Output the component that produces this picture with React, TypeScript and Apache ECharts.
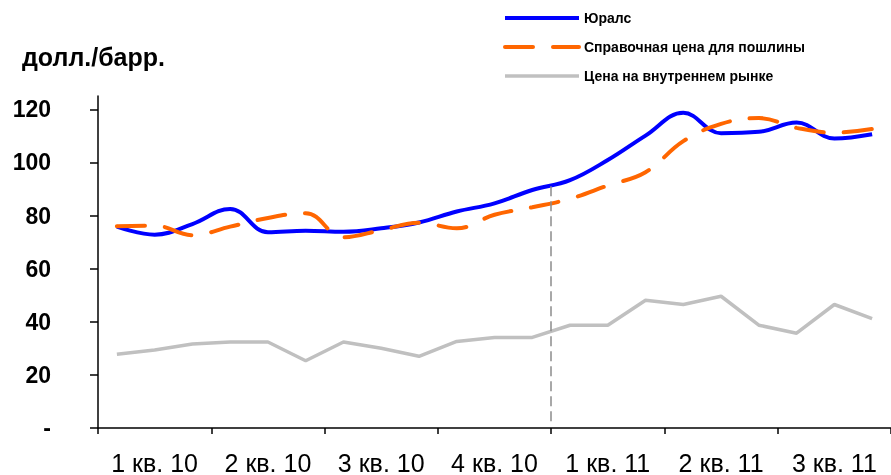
import React, { useEffect, useRef } from 'react';
import * as echarts from 'echarts';

const months = [
  '01.10', '02.10', '03.10', '04.10', '05.10', '06.10', '07.10', '08.10', '09.10', '10.10', '11.10', '12.10',
  '01.11', '02.11', '03.11', '04.11', '05.11', '06.11', '07.11', '08.11', '09.11',
];
const quarterLabels = ['1 кв. 10', '2 кв. 10', '3 кв. 10', '4 кв. 10', '1 кв. 11', '2 кв. 11', '3 кв. 11'];
const urals = [75.8, 72.8, 76.8, 82.5, 73.7, 74.3, 73.9, 75.2, 77.4, 81.5, 84.6, 89.6, 93.3, 100.9, 110.1, 118.7, 111.0, 111.5, 115.0, 109.0, 110.6];
const dutyRef = [76.0, 76.2, 72.6, 75.8, 79.1, 80.9, 71.8, 74.5, 77.3, 75.2, 80.3, 83.1, 86.3, 91.3, 96.3, 108.0, 114.5, 116.7, 113.0, 111.2, 112.6];
const domestic = [27.8, 29.4, 31.6, 32.4, 32.4, 25.3, 32.4, 30.0, 27.0, 32.6, 34.1, 34.1, 38.7, 38.7, 48.1, 46.5, 49.6, 38.7, 35.7, 46.5, 41.2];
const yTicks = [0, 20, 40, 60, 80, 100, 120];
const dividerMonth = 12;
const dividerRange = [2.5, 92];
const seriesNames = ['Юралс', 'Справочная цена для пошлины', 'Цена на внутреннем рынке'];

export default function App() {
  const ref = useRef<HTMLDivElement>(null);
  useEffect(() => {
    const chart = echarts.init(ref.current!, null, { renderer: 'svg' });
    const font = "'Liberation Sans', Arial, sans-serif";
    chart.setOption({
      animation: false,
      textStyle: { fontFamily: font },
      title: {
        text: 'долл./барр.',
        left: 22,
        top: 44,
        padding: 0,
        textStyle: { fontSize: 25, fontWeight: 'bold', color: '#000', fontFamily: font },
      },
      legend: {
        orient: 'vertical',
        left: 498,
        top: 6,
        itemWidth: 74,
        itemHeight: 14,
        itemGap: 15,
        data: seriesNames,
        itemStyle: { opacity: 0 },
        lineStyle: { width: 'inherit' },
        textStyle: { fontSize: 14, fontWeight: 'bold', color: '#000', fontFamily: font },
      },
      grid: { left: 98, top: 96, width: 799, height: 333.5 },
      xAxis: [
        {
          type: 'category',
          data: months,
          boundaryGap: true,
          axisLine: { lineStyle: { color: '#000', width: 1.5 } },
          axisTick: {
            show: true,
            length: 6,
            interval: (i: number) => i % 3 === 0,
            lineStyle: { color: '#000', width: 1.5 },
          },
          axisLabel: {
            interval: (i: number) => i % 3 === 1,
            formatter: (_v: string, i: number) => quarterLabels[Math.floor(i / 3)],
            fontSize: 25,
            color: '#000',
            margin: 22,
            fontFamily: font,
          },
          splitLine: { show: false },
        },
        { type: 'value', min: 0, max: months.length, show: false },
      ],
      yAxis: {
        type: 'value',
        min: 0,
        max: 125,
        axisLine: { show: true, lineStyle: { color: '#000', width: 1.5 } },
        axisTick: { show: true, length: 8, customValues: yTicks, lineStyle: { color: '#000', width: 1.5 } },
        axisLabel: {
          customValues: yTicks,
          formatter: (v: number) => (v === 0 ? '-' : String(v)),
          fontSize: 23,
          fontWeight: 'bold',
          color: '#000',
          margin: 47,
          fontFamily: font,
        },
        splitLine: { show: false },
      },
      series: [
        {
          name: seriesNames[0],
          type: 'line',
          data: urals,
          smooth: 0.4,
          symbol: 'none',
          lineStyle: { color: '#0000ff', width: 4 },
          itemStyle: { color: '#0000ff' },
          z: 3,
        },
        {
          name: seriesNames[1],
          type: 'line',
          data: dutyRef,
          smooth: 0.4,
          symbol: 'none',
          lineStyle: { color: '#ff6600', width: 4, type: [28, 20], cap: 'round' },
          itemStyle: { color: '#ff6600' },
          z: 4,
        },
        {
          name: seriesNames[2],
          type: 'line',
          data: domestic,
          symbol: 'none',
          lineStyle: { color: '#c0c0c0', width: 3.5 },
          itemStyle: { color: '#c0c0c0' },
          z: 2,
        },
        {
          type: 'line',
          xAxisIndex: 1,
          data: [[dividerMonth, dividerRange[0]]],
          symbol: 'none',
          lineStyle: { opacity: 0 },
          markLine: {
            silent: true,
            symbol: 'none',
            label: { show: false },
            lineStyle: { type: [10, 5], color: '#8c8c8c', width: 1.5 },
            data: [[{ coord: [dividerMonth, dividerRange[0]] }, { coord: [dividerMonth, dividerRange[1]] }]],
          },
          z: 1,
        },
      ],
    });
    return () => chart.dispose();
  }, []);
  return <div ref={ref} style={{ position: 'fixed', left: 0, top: 0, width: 891, height: 475 }} />;
}
